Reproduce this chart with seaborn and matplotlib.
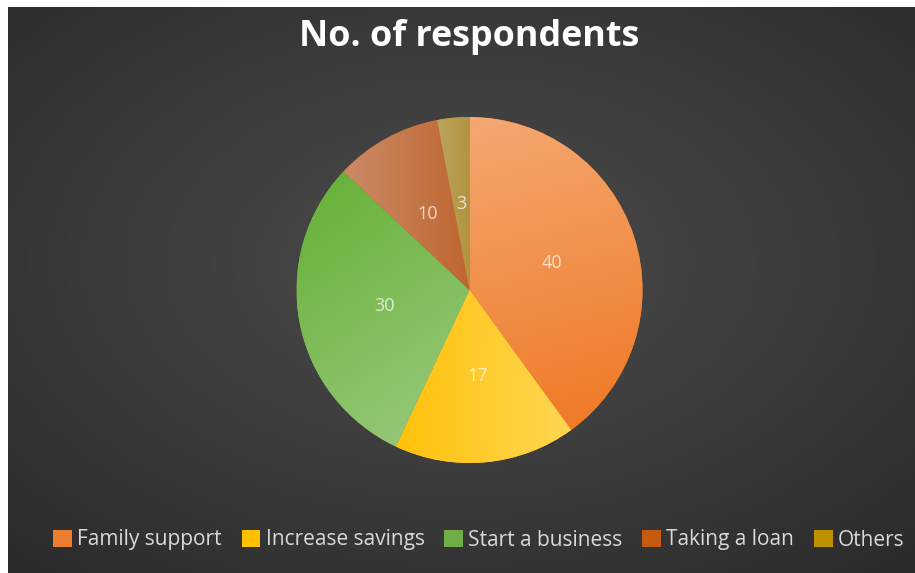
import numpy as np
import matplotlib
matplotlib.use("Agg")
import matplotlib.pyplot as plt
import seaborn as sns
from matplotlib.patches import Patch
from matplotlib.colors import LinearSegmentedColormap

# ---- data ----
categories = ["Family support", "Increase savings", "Start a business", "Taking a loan", "Others"]
values = [40, 17, 30, 10, 3]
chart_title = "No. of respondents"

# ---- style ----
sns.set_theme(style="dark")
plt.rcParams['font.family'] = ['Open Sans', 'DejaVu Sans']

base_colors = ["#ED7D31", "#FFC000", "#70AD47", "#C55A11", "#BF9000"]
grad_light = ["#F4A872", "#FFD654", "#95C777", "#CB8A66", "#BBA45C"]
grad_dark = ["#EF7A26", "#FFC10A", "#68B23A", "#BF6630", "#B39340"]
grad_dir_deg = [-75, 180, 125, 0, 0]   # direction light -> dark

W, H, DPI = 915, 573, 100
fig = plt.figure(figsize=(W / DPI, H / DPI), dpi=DPI, facecolor="white")

# background panel with radial gradient
bg = fig.add_axes([8 / W, 0, (W - 8) / W, (H - 7) / H], zorder=0)
yy, xx = np.mgrid[0:1:300j, 0:1:480j]
r = np.sqrt(((xx - 0.5) / 0.75) ** 2 + ((yy - 0.55) / 0.75) ** 2)
r = np.clip(r, 0, 1)
bg_cmap = LinearSegmentedColormap.from_list("bg", ["#4B4B4B", "#3C3C3C", "#2A2A2A"])
bg.imshow(r, cmap=bg_cmap, aspect="auto", extent=[0, 1, 0, 1], origin="lower", vmin=0, vmax=1)
bg.set_axis_off()

# pie axes
cx, cy, rad = 469.5, 290, 173
ax = fig.add_axes([(cx - rad) / W, (H - cy - rad) / H, 2 * rad / W, 2 * rad / H], zorder=1)
ax.set_facecolor("none")
total = sum(values)
wedges, texts, autotexts = ax.pie(
    values, colors=base_colors, startangle=90, counterclock=False,
    autopct=lambda p: f"{round(p * total / 100)}", pctdistance=0.5,
    wedgeprops=dict(edgecolor="none", linewidth=0),
    textprops=dict(color="white", fontsize=13, alpha=0.72),
)
ax.set_xlim(-1, 1)
ax.set_ylim(-1, 1)
ax.set_aspect("equal")
ax.set_axis_off()

# gradient fill clipped to each wedge
gy, gx = np.mgrid[-1:1:400j, -1:1:400j]
for w, cl, cd, ang in zip(wedges, grad_light, grad_dark, grad_dir_deg):
    verts = w.get_patch_transform().transform(w.get_path().vertices)
    d = np.array([np.cos(np.radians(ang)), np.sin(np.radians(ang))])
    proj_v = verts @ d
    lo, hi = proj_v.min(), proj_v.max()
    t = ((gx * d[0] + gy * d[1]) - lo) / (hi - lo)
    cmap = LinearSegmentedColormap.from_list("g", [cl, cd])
    im = ax.imshow(t, cmap=cmap, vmin=0, vmax=1, extent=[-1, 1, -1, 1],
                   origin="lower", zorder=1.5, interpolation="bilinear")
    im.set_clip_path(w)

for t in autotexts:
    t.set_zorder(3)

ax.set_xlim(-1, 1)
ax.set_ylim(-1, 1)

fig.text(469.5 / W, 1 - 46 / H, chart_title, ha="center", va="baseline",
         fontsize=25.8, fontweight="bold", color="white", zorder=3)

handles = [Patch(facecolor=c, edgecolor="none") for c in base_colors]
leg = fig.legend(handles, categories, loc="center", bbox_to_anchor=(479 / W, 1 - 540 / H),
                 ncol=5, frameon=False, fontsize=15, handlelength=0.9, handleheight=0.85,
                 handletextpad=0.25, columnspacing=0.95)
for txt in leg.get_texts():
    txt.set_color("#D9D9D9")

fig.savefig("out.png", dpi=DPI, facecolor="white")
